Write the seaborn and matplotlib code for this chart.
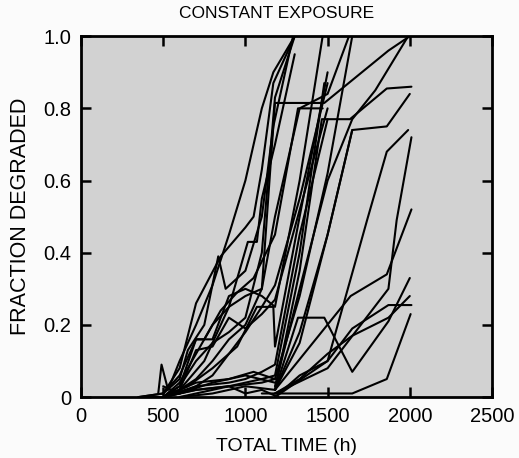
import seaborn as sns
import matplotlib.pyplot as plt
import pandas as pd

# specimen curves: hours, fraction degraded
t_e1 = [350, 500, 600, 700, 850, 1000, 1050, 1100, 1170, 1300]
f_e1 = [0.0, 0.01, 0.08, 0.26, 0.39, 0.47, 0.50, 0.63, 0.87, 1.0]
t_e2 = [470, 490, 530, 600, 700, 800, 900, 1000, 1100, 1170, 1300]
f_e2 = [0.01, 0.09, 0.02, 0.10, 0.20, 0.31, 0.45, 0.60, 0.80, 0.90, 1.0]
t_e3 = [500, 600, 700, 800, 900, 1000, 1100, 1180, 1480, 1870, 2000]
f_e3 = [0.0, 0.04, 0.12, 0.20, 0.25, 0.28, 0.30, 0.815, 0.815, 0.96, 1.0]
t_e4 = [500, 600, 650, 750, 835, 880, 1000, 1100, 1170, 1290]
f_e4 = [0.01, 0.05, 0.13, 0.20, 0.39, 0.30, 0.35, 0.50, 0.75, 1.0]
t_e5 = [500, 600, 700, 800, 900, 1000, 1100, 1180, 1330, 1470]
f_e5 = [0.0, 0.03, 0.16, 0.16, 0.28, 0.30, 0.28, 0.25, 0.60, 1.0]
t_e6 = [500, 600, 700, 800, 900, 1000, 1100, 1180, 1500]
f_e6 = [0.0, 0.02, 0.13, 0.14, 0.22, 0.19, 0.23, 0.27, 0.80]
t_e7 = [500, 600, 700, 800, 900, 1000, 1100, 1180, 1330, 1500, 1630]
f_e7 = [0.0, 0.02, 0.05, 0.10, 0.16, 0.20, 0.30, 0.50, 0.80, 0.84, 1.0]
t_e8 = [350, 500, 600, 700, 750, 850, 950, 1050, 1180, 1320, 1470]
f_e8 = [0.0, 0.01, 0.06, 0.16, 0.16, 0.24, 0.29, 0.33, 0.45, 0.80, 0.80]
t_e9 = [500, 600, 700, 800, 900, 1000, 1100, 1180, 1300]
f_e9 = [0.0, 0.03, 0.10, 0.15, 0.18, 0.22, 0.40, 0.83, 1.0]
t_e10 = [500, 600, 700, 800, 900, 1000, 1100, 1180, 1330, 1500]
f_e10 = [0.0, 0.01, 0.03, 0.06, 0.12, 0.18, 0.25, 0.31, 0.55, 0.87]
t_e11 = [500, 650, 800, 950, 1070, 1170, 1180, 1330, 1500]
f_e11 = [0.0, 0.03, 0.08, 0.14, 0.25, 0.25, 0.14, 0.50, 0.90]
t_e12 = [500, 600, 750, 900, 1015, 1070, 1100, 1180, 1300]
f_e12 = [0.0, 0.02, 0.10, 0.25, 0.43, 0.43, 0.55, 0.70, 0.95]

t_m1 = [500, 700, 900, 1000, 1100, 1180, 1330, 1500]
f_m1 = [0.0, 0.03, 0.04, 0.05, 0.07, 0.09, 0.45, 0.77]
t_m2 = [500, 700, 900, 1100, 1180, 1330, 1500, 1650]
f_m2 = [0.0, 0.02, 0.03, 0.04, 0.05, 0.28, 0.62, 1.0]
t_m3 = [600, 800, 1000, 1100, 1180, 1330, 1480]
f_m3 = [0.0, 0.02, 0.04, 0.05, 0.06, 0.40, 0.87]
t_m4 = [600, 800, 1000, 1180, 1330, 1500, 1650]
f_m4 = [0.0, 0.01, 0.03, 0.02, 0.18, 0.45, 0.74]
t_m5 = [350, 500, 700, 900, 1000, 1100, 1200]
f_m5 = [0.0, 0.0, 0.02, 0.03, 0.01, 0.02, 0.0]
t_m6 = [500, 600, 800, 1000, 1180]
f_m6 = [0.03, 0.01, 0.04, 0.06, 0.04]
t_m7 = [500, 700, 900, 1050, 1180]
f_m7 = [0.0, 0.04, 0.05, 0.07, 0.05]

t_l1 = [1180, 1320, 1480, 1650, 1870, 2000]
f_l1 = [0.02, 0.22, 0.22, 0.07, 0.21, 0.33]
t_l2 = [1180, 1330, 1500, 1650, 1870, 2010]
f_l2 = [0.0, 0.06, 0.10, 0.19, 0.255, 0.255]
t_l3 = [1180, 1330, 1500, 1650, 1870, 2000]
f_l3 = [0.01, 0.05, 0.12, 0.17, 0.22, 0.28]
t_l4 = [1100, 1650, 1860, 2005]
f_l4 = [0.01, 0.01, 0.05, 0.23]
t_l5 = [1180, 1640, 1860, 2010]
f_l5 = [0.02, 0.28, 0.34, 0.52]
t_l6 = [1180, 1500, 1740, 1860, 1990]
f_l6 = [0.0, 0.10, 0.49, 0.68, 0.74]
t_l7 = [1180, 1330, 1500, 1650, 1860, 2000]
f_l7 = [0.02, 0.15, 0.45, 0.74, 0.75, 0.84]
t_l8 = [1180, 1330, 1465, 1636, 1860, 2010]
f_l8 = [0.02, 0.35, 0.77, 0.77, 0.855, 0.86]
t_l9 = [1180, 1330, 1500, 1650, 1790, 1990]
f_l9 = [0.03, 0.30, 0.60, 0.77, 0.85, 1.0]
t_l10 = [1180, 1500, 1870, 1920, 2010]
f_l10 = [0.01, 0.08, 0.30, 0.49, 0.72]

curves = {
    'e1': (t_e1, f_e1), 'e2': (t_e2, f_e2), 'e3': (t_e3, f_e3), 'e4': (t_e4, f_e4),
    'e5': (t_e5, f_e5), 'e6': (t_e6, f_e6), 'e7': (t_e7, f_e7), 'e8': (t_e8, f_e8),
    'e9': (t_e9, f_e9), 'e10': (t_e10, f_e10), 'e11': (t_e11, f_e11), 'e12': (t_e12, f_e12),
    'm1': (t_m1, f_m1), 'm2': (t_m2, f_m2), 'm3': (t_m3, f_m3), 'm4': (t_m4, f_m4),
    'm5': (t_m5, f_m5), 'm6': (t_m6, f_m6), 'm7': (t_m7, f_m7),
    'l1': (t_l1, f_l1), 'l2': (t_l2, f_l2), 'l3': (t_l3, f_l3), 'l4': (t_l4, f_l4),
    'l5': (t_l5, f_l5), 'l6': (t_l6, f_l6), 'l7': (t_l7, f_l7), 'l8': (t_l8, f_l8),
    'l9': (t_l9, f_l9), 'l10': (t_l10, f_l10),
}

rows = []
for name, (ts, fs) in curves.items():
    for i, (t, f) in enumerate(zip(ts, fs)):
        rows.append({'specimen': name, 'order': i, 'time': t, 'frac': f})
df = pd.DataFrame(rows)

x_ticks = [0, 500, 1000, 1500, 2000, 2500]
y_ticks = [0, 0.2, 0.4, 0.6, 0.8, 1.0]
y_labels = ['0', '0.2', '0.4', '0.6', '0.8', '1.0']

sns.set_style('ticks')
plt.rcParams['font.family'] = ['Liberation Sans', 'DejaVu Sans']
plt.rcParams['text.color'] = 'black'
plt.rcParams['axes.labelcolor'] = 'black'

fig = plt.figure(figsize=(5.19, 4.58), dpi=100)
fig.patch.set_facecolor('#fbfbfb')
ax = fig.add_axes([0.156, 0.133, 0.792, 0.788])
ax.set_facecolor('#d2d2d2')

sns.lineplot(data=df, x='time', y='frac', units='specimen', estimator=None,
             sort=False, color='black', linewidth=1.5, ax=ax)

ax.set_xlim(0, 2500)
ax.set_ylim(0, 1.0)
ax.set_xticks(x_ticks)
ax.set_xticklabels([str(v) for v in x_ticks])
ax.set_yticks(y_ticks)
ax.set_yticklabels(y_labels)
ax.tick_params(direction='in', length=7, width=1.8, top=True, right=True,
               labelsize=14.5, pad=7, colors='black')
for s in ax.spines.values():
    s.set_linewidth(2)
    s.set_color('black')

ax.set_xlabel('TOTAL TIME (h)', fontsize=14, labelpad=9, color='black')
ax.set_ylabel('FRACTION DEGRADED', fontsize=15.5, labelpad=9, color='black')
ax.set_title('CONSTANT EXPOSURE', fontsize=12.5, pad=13, x=0.475, color='black')

fig.savefig('out.png', dpi=100)
